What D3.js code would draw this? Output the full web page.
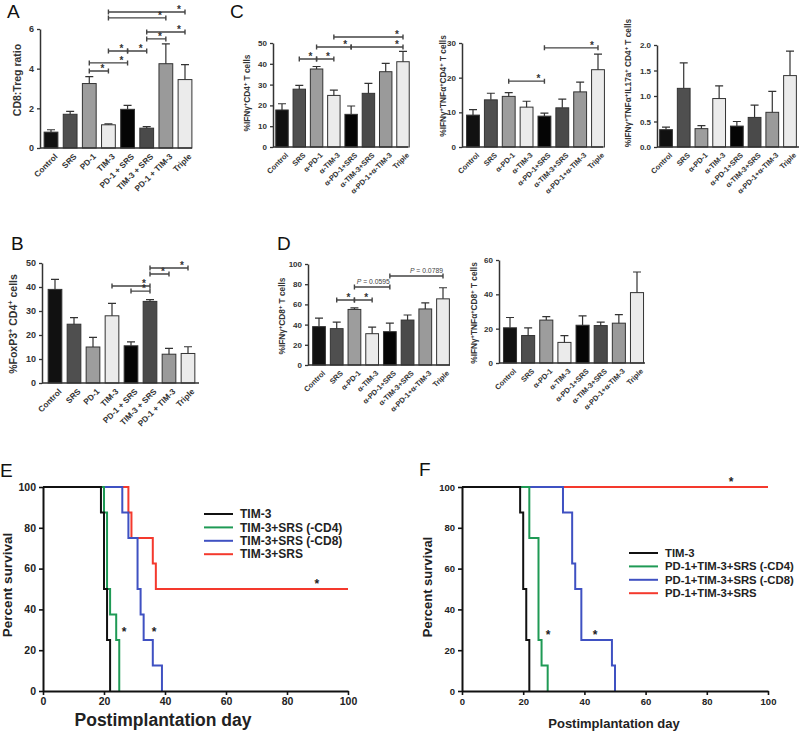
<!DOCTYPE html>
<html>
<head>
<meta charset="utf-8">
<script src="https://cdn.jsdelivr.net/npm/d3@7"></script>
<style>
body { margin: 0; background: #fff; }
svg { font-family: "Liberation Sans", Arial, sans-serif; }
</style>
</head>
<body>
<svg id="fig" width="800" height="732"></svg>
<script>
// group names
const groupsAB = ['Control', 'SRS', 'PD-1', 'TIM-3', 'PD-1 + SRS', 'TIM-3 + SRS', 'PD-1 + TIM-3', 'Triple'];
const groupsCD = ['Control', 'SRS', 'α-PD-1', 'α-TIM-3', 'α-PD-1+SRS', 'α-TIM-3+SRS', 'α-PD-1+α-TIM-3', 'Triple'];
const barFills = ['#111', '#4f4f4f', '#9d9d9d', '#ebebeb', '#050505', '#4a4a4a', '#9a9a9a', '#ebebeb'];

// A: CD8:Treg ratio
const ratioA = [0.8, 1.7, 3.25, 1.17, 1.95, 1.0, 4.25, 3.45];
const ratioAErr = [0.12, 0.15, 0.35, 0.05, 0.2, 0.08, 1.0, 0.75];
const bracketsA = [[2, 3, 3.88], [2, 4, 4.29], [3, 4, 4.89], [4, 5, 4.89], [3, 7, 6.86], [3, 6, 6.56], [5, 7, 5.85], [5, 6, 5.5]];

// B: %FoxP3+ CD4+
const foxpB = [39, 24.5, 15, 28, 15.5, 34, 12, 12.3];
const foxpBErr = [4.2, 2.7, 4, 5.2, 1.6, 0.7, 2.4, 2.8];
const bracketsB = [[3, 5, 40.4], [4, 5, 38.3], [5, 6, 45.4], [5, 7, 47.9]];

// C: CD4 cytokines
const ifnC = [17.8, 27.8, 37.5, 24.8, 15.7, 25.8, 36.2, 41];
const ifnCErr = [3, 1.8, 1.2, 2.5, 4, 4.8, 4, 5];
const bracketsC1 = [[1, 2, 42.3], [2, 3, 42.3], [2, 4, 48.1], [4, 7, 48.1], [3, 7, 52.9]];
const tnfC = [9.2, 13.6, 14.6, 11.5, 8.9, 11.3, 15.9, 22.3];
const tnfCErr = [1.6, 1.9, 1.1, 1.7, 0.9, 2.5, 2.8, 4.5];
const bracketsC2 = [[2, 4, 19], [4, 7, 28.6]];
const il17C = [0.34, 1.15, 0.36, 0.95, 0.41, 0.58, 0.68, 1.4];
const il17CErr = [0.05, 0.5, 0.06, 0.25, 0.09, 0.24, 0.41, 0.48];

// D: CD8 cytokines
const ifnD = [38, 36, 55, 31, 33, 44.5, 55.5, 65.5];
const ifnDErr = [8.5, 6.5, 1.5, 6.5, 8.5, 5, 6, 11];
const bracketsD1 = [[1, 2, 64.4], [2, 3, 64.4], [2, 4, 77.2, '0.0595'], [4, 7, 88.1, '0.0789']];
const tnfD = [20.5, 16, 25, 12, 22, 21.8, 23.2, 41];
const tnfDErr = [6, 4.5, 2, 4, 5.5, 2, 5, 12];

// E / F: survival (Kaplan-Meier steps)
const survTicks = [0, 20, 40, 60, 80, 100];
const namesE = ['TIM-3', 'TIM-3+SRS (-CD4)', 'TIM-3+SRS (-CD8)', 'TIM-3+SRS'];
const namesF = ['TIM-3', 'PD-1+TIM-3+SRS (-CD4)', 'PD-1+TIM-3+SRS (-CD8)', 'PD-1+TIM-3+SRS'];
const survColors = ['#111', '#1f9a55', '#3f51c2', '#f4392d'];
const daysE = [[0, 19, 20, 21, 22], [0, 20, 21, 22, 24, 25], [0, 26, 28, 31, 32, 33, 36, 39], [0, 28, 29, 36, 37, 100]];
const pctE = [[100, 87.5, 50, 25, 0], [100, 87.5, 50, 37.5, 25, 0], [100, 87.5, 75, 50, 37.5, 25, 12.5, 0], [100, 87.5, 75, 62.5, 50, 50]];
const daysF = [[0, 19, 20, 21, 22], [0, 22, 25, 26, 28], [0, 33, 36, 37, 39, 49, 50], [0, 100]];
const pctF = [[100, 87.5, 50, 25, 0], [100, 75, 25, 12.5, 0], [100, 87.5, 62.5, 50, 25, 12.5, 0], [100, 100]];
const starsE = [[26.6, 30.4], [36.4, 30.4], [89.8, 53.9]];
const starsF = [[28.1, 28.9], [43.5, 28.9], [87.9, 103.9]];

const svg = d3.select('#fig');

// text with ^superscript^ parts
function richText(sel, str, fs) {
    const parts = str.split('^');
    let up = false;
    parts.forEach((s, i) => {
        if (s === '') { return; }
        const sup = i % 2 === 1;
        const t = sel.append('tspan').text(s);
        if (sup) {
            t.attr('font-size', fs * 0.7).attr('dy', -fs * 0.38);
            up = true;
        } else if (up) {
            t.attr('dy', fs * 0.38);
            up = false;
        }
    });
}

function drawBars(p) {
    const g = svg.append('g');
    const y = d3.scaleLinear().domain([0, p.max]).range([p.yBot, p.yTop]);
    const x = d3.scalePoint().domain(d3.range(p.values.length)).range([p.c0, p.c1]);
    const bw = x.step() * 0.72;

    g.selectAll('rect').data(p.values).join('rect')
        .attr('x', (d, i) => x(i) - bw / 2)
        .attr('y', d => y(d))
        .attr('width', bw)
        .attr('height', d => y(0) - y(d))
        .attr('fill', (d, i) => barFills[i])
        .attr('stroke', '#333')
        .attr('stroke-width', 1);

    g.selectAll('path.err').data(p.values).join('path')
        .attr('class', 'err')
        .attr('d', (d, i) => {
            const cx = x(i), t = y(d + p.errors[i]);
            return `M${cx},${y(d)}V${t}M${cx - 4},${t}H${cx + 4}`;
        })
        .attr('fill', 'none')
        .attr('stroke', '#333')
        .attr('stroke-width', 1.2);

    const ya = g.append('g')
        .attr('transform', `translate(${p.x0},0)`)
        .call(d3.axisLeft(y).tickValues(p.ticks).tickSize(3).tickSizeOuter(0).tickFormat(p.fmt || d3.format('d')));
    ya.attr('font-family', null).attr('font-size', p.tickFs).attr('font-weight', 'bold');
    ya.select('.domain').attr('stroke', '#333').attr('stroke-width', 1.5);
    ya.selectAll('.tick line').attr('stroke', '#333').attr('stroke-width', 1.3);
    ya.selectAll('.tick text').attr('fill', '#333');

    g.append('line')
        .attr('x1', p.x0).attr('x2', p.xEnd)
        .attr('y1', y(0)).attr('y2', y(0))
        .attr('stroke', '#333').attr('stroke-width', 1.5);

    g.selectAll('text.xl').data(p.labels).join('text')
        .attr('class', 'xl')
        .attr('transform', (d, i) => `translate(${x(i) + 3},${y(0) + 5}) rotate(-45)`)
        .attr('text-anchor', 'end')
        .attr('dy', '0.7em')
        .attr('font-size', p.labelFs)
        .attr('font-weight', 'bold')
        .attr('fill', '#333')
        .text(d => d);

    (p.brackets || []).forEach(b => {
        const x1 = x(b[0]), x2 = x(b[1]), by = y(b[2]);
        g.append('path')
            .attr('d', `M${x1},${by - 2.5}V${by + 2.5}M${x1},${by}H${x2}M${x2},${by - 2.5}V${by + 2.5}`)
            .attr('fill', 'none').attr('stroke', '#444').attr('stroke-width', 1.4);
        if (b[3]) {
            const t = g.append('text')
                .attr('x', x2).attr('y', by - 3)
                .attr('text-anchor', 'end')
                .attr('font-size', 6.8).attr('fill', '#444');
            t.append('tspan').attr('font-style', 'italic').text('P');
            t.append('tspan').text(' = ' + b[3]);
        } else {
            g.append('text')
                .attr('x', x2 - 6).attr('y', by + 1)
                .attr('text-anchor', 'middle')
                .attr('font-size', 10).attr('font-weight', 'bold').attr('fill', '#333')
                .text('*');
        }
    });

    const tt = g.append('text')
        .attr('transform', `translate(${p.tx},${p.ty}) rotate(-90)`)
        .attr('text-anchor', 'middle')
        .attr('dy', '0.35em')
        .attr('font-size', p.titleFs)
        .attr('font-weight', 'bold')
        .attr('fill', '#333');
    richText(tt, p.title, p.titleFs);
}

function drawSurvival(p) {
    const g = svg.append('g');
    const x = d3.scaleLinear().domain([0, 100]).range([p.x0, p.x1]);
    const y = d3.scaleLinear().domain([0, 100]).range([p.yBot, p.yTop]);
    const line = d3.line().curve(d3.curveStepAfter).x(d => x(d[0])).y(d => y(d[1]));

    // reverse order so the first series sits on top
    for (let k = p.days.length - 1; k >= 0; k--) {
        const pts = p.days[k].map((d, i) => [d, p.pct[k][i]]);
        g.append('path')
            .datum(pts)
            .attr('d', line)
            .attr('fill', 'none')
            .attr('stroke', survColors[k])
            .attr('stroke-width', 2);
    }

    const xa = g.append('g')
        .attr('transform', `translate(0,${p.yBot})`)
        .call(d3.axisBottom(x).tickValues(survTicks).tickSize(4).tickSizeOuter(0));
    const ya = g.append('g')
        .attr('transform', `translate(${p.x0},0)`)
        .call(d3.axisLeft(y).tickValues(survTicks).tickSize(4).tickSizeOuter(0));
    [xa, ya].forEach(a => {
        a.attr('font-family', null).attr('font-size', p.tickFs).attr('font-weight', 'bold');
        a.select('.domain').attr('stroke', '#111').attr('stroke-width', 2);
        a.selectAll('.tick line').attr('stroke', '#111').attr('stroke-width', 1.6);
        a.selectAll('.tick text').attr('fill', '#222');
    });

    g.append('text')
        .attr('transform', `translate(${p.ytx},${p.yty}) rotate(-90)`)
        .attr('text-anchor', 'middle').attr('dy', '0.35em')
        .attr('font-size', p.yTitleFs).attr('font-weight', 'bold').attr('fill', '#222')
        .text('Percent survival');
    g.append('text')
        .attr('x', p.xtx).attr('y', p.xty)
        .attr('text-anchor', 'middle')
        .attr('font-size', p.xTitleFs).attr('font-weight', 'bold').attr('fill', '#222')
        .text('Postimplantation day');

    p.names.forEach((n, i) => {
        const ly = p.legY + i * p.legStep;
        g.append('line')
            .attr('x1', p.legX).attr('x2', p.legX + 29)
            .attr('y1', ly).attr('y2', ly)
            .attr('stroke', survColors[i]).attr('stroke-width', 2);
        g.append('text')
            .attr('x', p.legX + 36).attr('y', ly).attr('dy', '0.35em')
            .attr('font-size', p.legFs).attr('font-weight', 'bold').attr('fill', '#222')
            .text(n);
    });

    p.stars.forEach(s => {
        g.append('text')
            .attr('x', x(s[0])).attr('y', y(s[1]))
            .attr('dy', '0.58em')
            .attr('text-anchor', 'middle')
            .attr('font-size', 12).attr('font-weight', 'bold').attr('fill', '#222')
            .text('*');
    });
}

drawBars({values: ratioA, errors: ratioAErr, labels: groupsAB, brackets: bracketsA,
    max: 6, ticks: [0, 2, 4, 6], x0: 40, c0: 51, c1: 185, xEnd: 192, yTop: 29, yBot: 148,
    tickFs: 9, labelFs: 8.2, title: 'CD8:Treg ratio', titleFs: 10.5, tx: 17, ty: 80});
drawBars({values: foxpB, errors: foxpBErr, labels: groupsAB, brackets: bracketsB,
    max: 50, ticks: [0, 10, 20, 30, 40, 50], x0: 42, c0: 55, c1: 188, xEnd: 199, yTop: 263, yBot: 383,
    tickFs: 9, labelFs: 8.2, title: '%FoxP3^+^ CD4^+^ cells', titleFs: 10.5, tx: 13, ty: 324});
drawBars({values: ifnC, errors: ifnCErr, labels: groupsCD, brackets: bracketsC1,
    max: 50, ticks: [0, 10, 20, 30, 40, 50], x0: 273, c0: 282, c1: 403, xEnd: 408, yTop: 43, yBot: 147,
    tickFs: 8, labelFs: 7.4, title: '%IFNγ^+^CD4^+^ T cells', titleFs: 8.3, tx: 247, ty: 93});
drawBars({values: tnfC, errors: tnfCErr, labels: groupsCD, brackets: bracketsC2,
    max: 30, ticks: [0, 10, 20, 30], x0: 462, c0: 473, c1: 598, xEnd: 603, yTop: 43, yBot: 147,
    tickFs: 8, labelFs: 7.4, title: '%IFNγ^+^TNFα^+^CD4^+^ T cells', titleFs: 8.3, tx: 443, ty: 86});
drawBars({values: il17C, errors: il17CErr, labels: groupsCD,
    max: 2, ticks: [0, 0.5, 1, 1.5, 2], fmt: d3.format('.1f'), x0: 657, c0: 666, c1: 790, xEnd: 799, yTop: 45, yBot: 147,
    tickFs: 8, labelFs: 7.4, title: '%IFNγ^+^TNFα^+^IL17a^+^ CD4^+^ T cells', titleFs: 8.3, tx: 628, ty: 83});
drawBars({values: ifnD, errors: ifnDErr, labels: groupsCD, brackets: bracketsD1,
    max: 100, ticks: [0, 20, 40, 60, 80, 100], x0: 308, c0: 319, c1: 443, xEnd: 450, yTop: 264, yBot: 365,
    tickFs: 8, labelFs: 7.4, title: '%IFNγ^+^CD8^+^ T cells', titleFs: 8.3, tx: 282, ty: 316});
drawBars({values: tnfD, errors: tnfDErr, labels: groupsCD,
    max: 60, ticks: [0, 20, 40, 60], x0: 499, c0: 510, c1: 637, xEnd: 645, yTop: 260, yBot: 363,
    tickFs: 8, labelFs: 7.4, title: '%IFNγ^+^TNFα^+^CD8^+^ T cells', titleFs: 8.3, tx: 474, ty: 313});

drawSurvival({days: daysE, pct: pctE, names: namesE, stars: starsE,
    x0: 43, x1: 348, yTop: 487, yBot: 691, tickFs: 10.5,
    ytx: 7, yty: 585, yTitleFs: 13.5, xtx: 163, xty: 726, xTitleFs: 17.5,
    legX: 204, legY: 514, legStep: 13.4, legFs: 12});
drawSurvival({days: daysF, pct: pctF, names: namesF, stars: starsF,
    x0: 462, x1: 768, yTop: 487, yBot: 691, tickFs: 9.5,
    ytx: 427, yty: 587, yTitleFs: 13, xtx: 614, xty: 728, xTitleFs: 13,
    legX: 629, legY: 553, legStep: 13.4, legFs: 11.3});

// panel letters
const panelLetters = ['A', 'B', 'C', 'D', 'E', 'F'];
const letterPos = [[7, 18], [11, 250], [230, 18], [277, 250], [0, 477], [419, 476]];
svg.selectAll('text.letter').data(panelLetters).join('text')
    .attr('class', 'letter')
    .attr('x', (d, i) => letterPos[i][0])
    .attr('y', (d, i) => letterPos[i][1])
    .attr('font-size', 19)
    .attr('fill', '#111')
    .text(d => d);
</script>
</body>
</html>
